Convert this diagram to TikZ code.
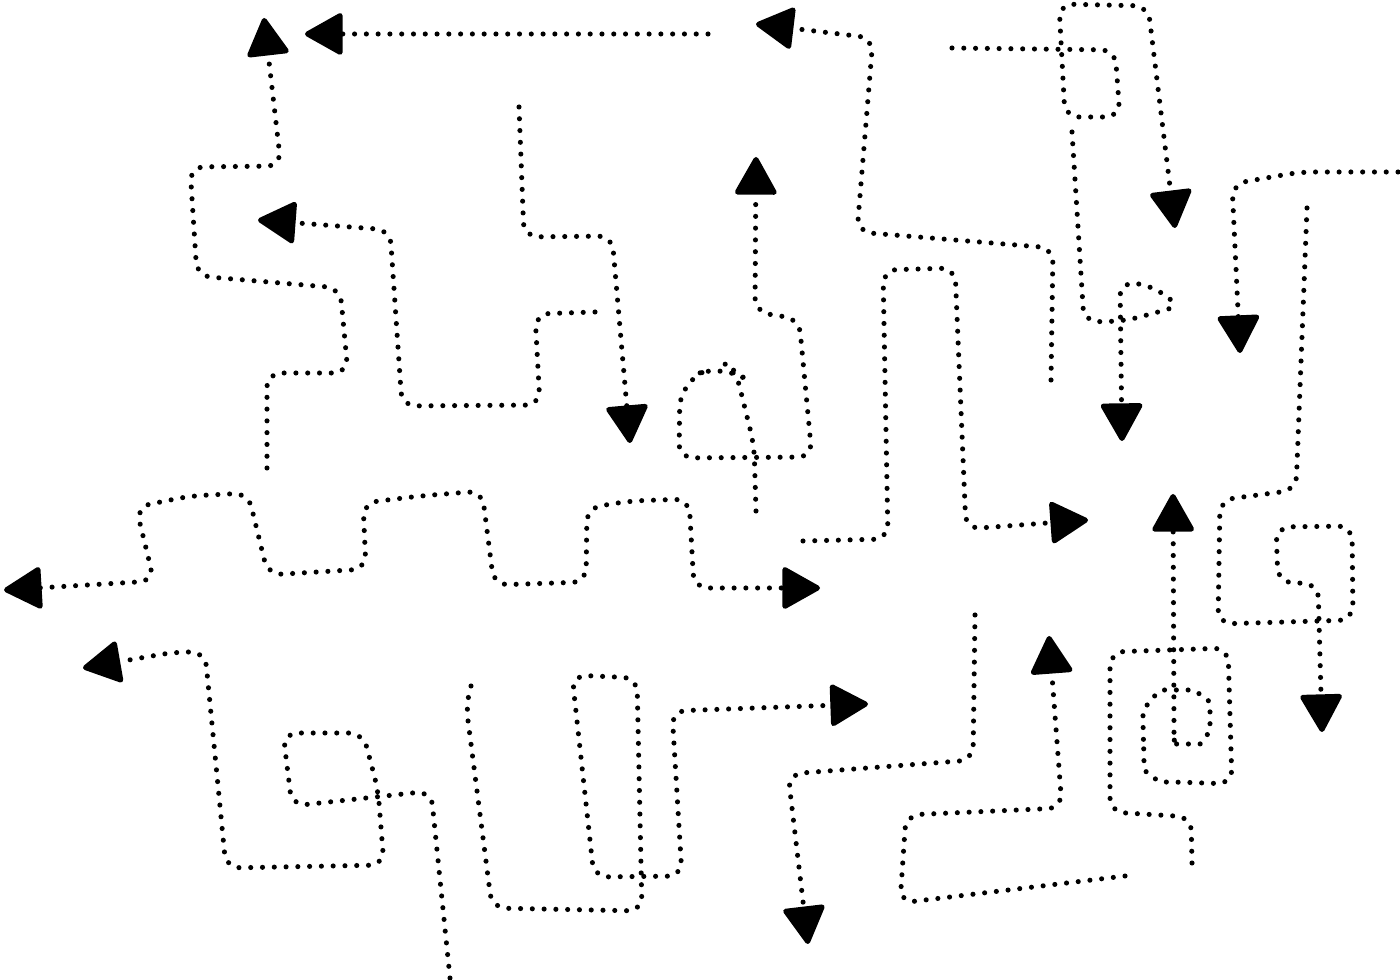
\documentclass[tikz,border=0pt]{standalone}
\usetikzlibrary{arrows.meta}

\begin{document}
\begin{tikzpicture}[
  x=0.01cm, y=-0.01cm,
  trail/.style={line width=1.45pt, line cap=round, dash pattern=on 0pt off 3.35pt,
                rounded corners=4pt},
  tip/.style={-{Triangle[length=11.5pt, width=12.5pt, round]}},
  tips/.style={{Triangle[length=11.5pt, width=12.5pt, round]}-{Triangle[length=11.5pt, width=12.5pt, round]}},
]
\useasboundingbox (0,0) rectangle (1400,980);

% ---------------- upper left ----------------
\draw[trail, tip] (267,468) -- (267,373) -- (348,373) -- (340,288) -- (197,276) -- (190,167)
  -- (281,166) -- (264,18);
\draw[trail, tip] (708,34) -- (305,34);
\draw[trail, tip] (595,312) -- (535,314) -- (540,405) -- (402,406) -- (390,230) -- (258,220);
\draw[trail, tip] (519,107) -- (524,237) -- (612,236) -- (630,443);

% ---------------- upper middle ----------------
\draw[trail, tip] (756,511) -- (754,445) -- (736,372) [rounded corners=8pt] -- (725,364)
  -- (680,380) [rounded corners=4pt] -- (679,458)
  -- (812,457) -- (799,319) -- (755,312) -- (756,157);
\draw[trail, tip] (1051,380) -- (1053,248) -- (857,232) -- (873,38) -- (756,24);
\draw[trail, tip] (803,541) -- (888,539) -- (883,270) -- (955,268) -- (966,529) -- (1088,520);

% ---------------- upper right ----------------
\draw[trail, tip] (952,48) -- (1115,50) -- (1120,117) -- (1065,117) -- (1059,4) -- (1148,6)
  -- (1175,228);
\draw[trail, tip] (1072,132) -- (1084,322) -- (1125,321) -- (1180,306) -- (1150,285)
  -- (1120,282) -- (1122,441);
\draw[trail, tip] (1398,172) -- (1300,172) -- (1232,184) -- (1240,353);
\draw[trail, tip] (1307,208) -- (1296,490) -- (1220,500) -- (1218,624) -- (1353,620)
  -- (1352,526) -- (1276,527) -- (1278,582) -- (1318,584) -- (1322,732);

% ---------------- middle band ----------------
\draw[trail, tips] (4,590) -- (154,581) -- (136,507) -- (190,496) -- (248,493) -- (268,575)
  -- (366,569) -- (363,503) -- (420,496) -- (482,491) -- (494,585) -- (586,582) -- (587,508)
  -- (630,501) -- (689,499) -- (694,588) -- (820,588);

% ---------------- lower left ----------------
\draw[trail, tip] (450,978) -- (431,791) -- (292,806) -- (283,733) -- (363,733) -- (378,790)
  -- (384,865) -- (226,868) -- (205,652) -- (175,652) -- (83,668);
\draw[trail, tip] (471,686) -- (466,705) -- (492,908) -- (642,911) -- (637,678) -- (572,675)
  -- (594,877) -- (682,876) -- (672,711) -- (868,704);

% ---------------- lower right ----------------
\draw[trail, tip] (975,615) -- (973,760) -- (788,774) -- (808,944);
\draw[trail, tip] (1125,876) -- (900,903) -- (906,815) -- (1062,808) -- (1049,636);
\draw[trail, tip] (1192,863) -- (1191,817) -- (1110,812) -- (1110,652) -- (1228,648)
  -- (1232,784) -- (1175,782) to[out=180, in=-90] (1144,755) -- (1143,728)
  to[out=90, in=180] (1178,690) to[out=0, in=90] (1210,717) to[out=-90, in=0] (1186,744)
  to[out=180, in=-90] (1174,728) -- (1173,494);

\end{tikzpicture}
\end{document}
